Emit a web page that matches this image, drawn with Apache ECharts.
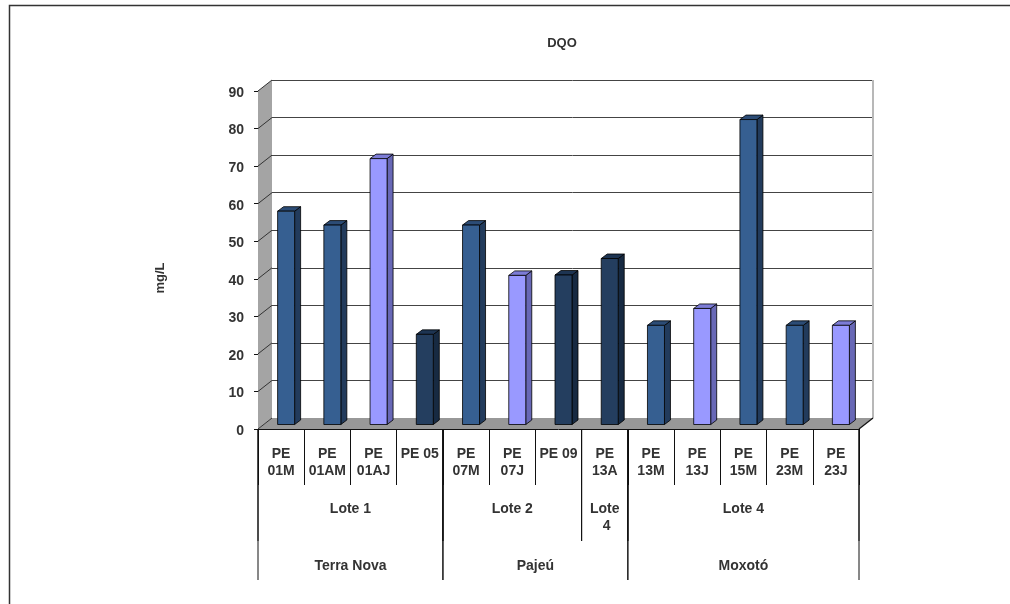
<!DOCTYPE html>
<html>
<head>
<meta charset="utf-8">
<script src="https://cdn.jsdelivr.net/npm/echarts@6/dist/echarts.min.js"></script>
<style>
  html, body { margin: 0; padding: 0; background: #fff; }
  #chart { width: 1010px; height: 604px; }
</style>
</head>
<body>
<div id="chart"></div>
<script>
// ---- data ----
const stations = ['PE\n01M', 'PE\n01AM', 'PE\n01AJ', 'PE 05', 'PE\n07M', 'PE\n07J', 'PE 09',
                  'PE\n13A', 'PE\n13M', 'PE\n13J', 'PE\n15M', 'PE\n23M', 'PE\n23J'];
const dqo = [56.8, 53.1, 70.8, 24.0, 53.1, 39.7, 39.8, 44.2, 26.4, 30.9, 81.2, 26.4, 26.4];
// sampling campaign of each station: M, J or single (S)
const campaign = ['M', 'M', 'J', 'S', 'M', 'J', 'S', 'S', 'M', 'J', 'M', 'M', 'J'];
const loteNames = ['Lote 1', 'Lote 2', 'Lote 4', 'Lote 4'];
const loteSizes = [4, 3, 1, 5];
const basinNames = ['Terra Nova', 'Pajeú', 'Moxotó'];
const basinSizes = [4, 4, 5];
const yMin = 0, yMax = 90, yStep = 10;
const chartTitle = 'DQO';
const yName = 'mg/L';

// ---- styles ----
const FONT = '"Liberation Sans", Arial, Helvetica, sans-serif';
const TEXT = '#333333';
const palette = {
  M: { front: '#365f91', side: '#223b5c', top: '#2c4c76' },
  J: { front: '#9999ff', side: '#6868b6', top: '#7c7cd6' },
  S: { front: '#243e5f', side: '#172a42', top: '#1d3452' }
};
const FRONT = { left: 258, top: 91, width: 601, height: 338 };
const DEPTH = [14, -11];          // floor / back wall depth offset
const BAR_SHIFT = [5, -4.5];      // bar front face offset from the front plane
const BAR_DEPTH = [6, -4.5];
const BAR_W = 17;
const LEVELS = { 1: { line: 112, text: 72 }, 2: { line: 151, text: 129 } };

function spansToRows(names, sizes, level) {
  let s = 0;
  return names.map((n, i) => {
    const r = { name: n, start: s, end: s + sizes[i] - 1, level: level };
    s += sizes[i];
    return r;
  });
}
const groupRows = spansToRows(loteNames, loteSizes, 1).concat(spansToRows(basinNames, basinSizes, 2));

const chart = echarts.init(document.getElementById('chart'), null, { renderer: 'canvas' });

const option = {
  animation: false,
  backgroundColor: '#ffffff',
  grid: [
    { left: FRONT.left + DEPTH[0], top: FRONT.top + DEPTH[1], width: FRONT.width, height: FRONT.height },
    { left: FRONT.left, top: FRONT.top, width: FRONT.width, height: FRONT.height }
  ],
  xAxis: [
    { gridIndex: 0, type: 'category', data: stations, show: false },
    {
      gridIndex: 1, type: 'category', data: stations,
      axisLine: { show: true, lineStyle: { color: '#111', width: 1 } },
      axisTick: { show: true, length: 56, interval: 0, lineStyle: { color: '#111', width: 1 } },
      axisLabel: {
        interval: 0, margin: 17, color: TEXT, fontFamily: FONT, fontWeight: 'bold',
        fontSize: 14, lineHeight: 17, verticalAlign: 'top'
      }
    }
  ],
  yAxis: [
    {
      gridIndex: 0, type: 'value', min: yMin, max: yMax, interval: yStep,
      axisLine: { show: false }, axisTick: { show: false }, axisLabel: { show: false },
      splitLine: { show: true, lineStyle: { color: '#444', width: 1 } }
    },
    {
      gridIndex: 1, type: 'value', min: yMin, max: yMax, interval: yStep,
      axisLine: { show: true, lineStyle: { color: '#111', width: 1 } },
      axisTick: { show: true, length: 4, lineStyle: { color: '#111' } },
      axisLabel: { margin: 14, color: TEXT, fontFamily: FONT, fontWeight: 'bold', fontSize: 14,
                   verticalAlign: 'top', lineHeight: 4 },
      splitLine: { show: false }
    }
  ],
  graphic: [
    { type: 'polyline', silent: true, shape: { points: [[9.5, 604], [9.5, 5.5], [1010, 5.5]] },
      style: { stroke: '#333', lineWidth: 1.5, fill: null } },
    { type: 'text', silent: true, x: 562, y: 43,
      style: { text: chartTitle, align: 'center', verticalAlign: 'middle', fill: TEXT,
               font: 'bold 13px ' + FONT } },
    { type: 'text', silent: true, x: 160, y: 278, rotation: Math.PI / 2,
      style: { text: yName, align: 'center', verticalAlign: 'middle', fill: TEXT,
               font: 'bold 13px ' + FONT } }
  ],
  series: [
    {
      // floor, side wall and its level marks
      type: 'custom', xAxisIndex: 1, yAxisIndex: 1, silent: true, clip: false,
      data: [[0, 0]],
      renderItem: function (params, api) {
        const band = api.size([1, 0])[0];
        const xl = api.coord([0, yMin])[0] - band / 2;
        const xr = api.coord([stations.length - 1, yMin])[0] + band / 2;
        const y0 = api.coord([0, yMin])[1];
        const yT = api.coord([0, yMax])[1];
        const dx = DEPTH[0], dy = DEPTH[1];
        const children = [
          { type: 'polygon', shape: { points: [[xl, y0], [xr, y0], [xr + dx, y0 + dy], [xl + dx, y0 + dy]] },
            style: { fill: '#989898' } },
          { type: 'polygon', shape: { points: [[xl, y0], [xl + dx, y0 + dy], [xl + dx, yT + dy], [xl, yT]] },
            style: { fill: '#a4a4a4' } },
          { type: 'line', shape: { x1: xr + dx, y1: yT + dy, x2: xr + dx, y2: y0 + dy },
            style: { stroke: '#b8b8b8', lineWidth: 2 } },
          { type: 'line', shape: { x1: xr, y1: y0, x2: xr + dx, y2: y0 + dy },
            style: { stroke: '#111', lineWidth: 1.2 } }
        ];
        for (let v = yMin; v <= yMax; v += yStep) {
          const y = api.coord([0, v])[1];
          children.push({ type: 'line', shape: { x1: xl, y1: y, x2: xl + dx, y2: y + dy },
                          style: { stroke: '#333', lineWidth: 1 } });
        }
        return { type: 'group', children: children };
      }
    },
    {
      // 3D-looking columns
      type: 'custom', xAxisIndex: 1, yAxisIndex: 1, clip: false,
      data: dqo.map((v, i) => [i, v]),
      renderItem: function (params, api) {
        const i = api.value(0), v = api.value(1);
        const base = api.coord([i, 0]);
        const top = api.coord([i, v]);
        const cx = base[0] + BAR_SHIFT[0];
        const yb = base[1] + BAR_SHIFT[1];
        const yt = top[1] + BAR_SHIFT[1];
        const xa = cx - BAR_W / 2, xb = cx + BAR_W / 2;
        const bx = BAR_DEPTH[0], by = BAR_DEPTH[1];
        const c = palette[campaign[params.dataIndex]];
        const edge = { stroke: '#000', lineWidth: 0.8 };
        return {
          type: 'group',
          children: [
            { type: 'polygon', shape: { points: [[xb, yb], [xb, yt], [xb + bx, yt + by], [xb + bx, yb + by]] },
              style: Object.assign({ fill: c.side }, edge) },
            { type: 'polygon', shape: { points: [[xa, yt], [xb, yt], [xb + bx, yt + by], [xa + bx, yt + by]] },
              style: Object.assign({ fill: c.top }, edge) },
            { type: 'rect', shape: { x: xa, y: yt, width: BAR_W, height: yb - yt },
              style: Object.assign({ fill: c.front }, edge) }
          ]
        };
      }
    },
    {
      // grouped category labels (lote, basin)
      type: 'custom', xAxisIndex: 1, yAxisIndex: 1, silent: true, clip: false,
      data: groupRows.map(r => [r.start, 0]),
      renderItem: function (params, api) {
        const r = groupRows[params.dataIndex];
        const band = api.size([1, 0])[0];
        const x0 = api.coord([r.start, 0])[0] - band / 2;
        const x1 = api.coord([r.end, 0])[0] + band / 2;
        const y = api.coord([0, 0])[1];
        const L = LEVELS[r.level];
        const ls = { stroke: '#111', lineWidth: 1 };
        return {
          type: 'group',
          children: [
            { type: 'line', shape: { x1: x0, y1: y, x2: x0, y2: y + L.line }, style: ls },
            { type: 'line', shape: { x1: x1, y1: y, x2: x1, y2: y + L.line }, style: ls },
            { type: 'text', style: {
                text: r.name, x: (x0 + x1) / 2, y: y + L.text, align: 'center', verticalAlign: 'top',
                width: x1 - x0 - 14, overflow: 'break', lineHeight: 17,
                font: 'bold 14px ' + FONT, fill: TEXT } }
          ]
        };
      }
    }
  ]
};

chart.setOption(option);
</script>
</body>
</html>
